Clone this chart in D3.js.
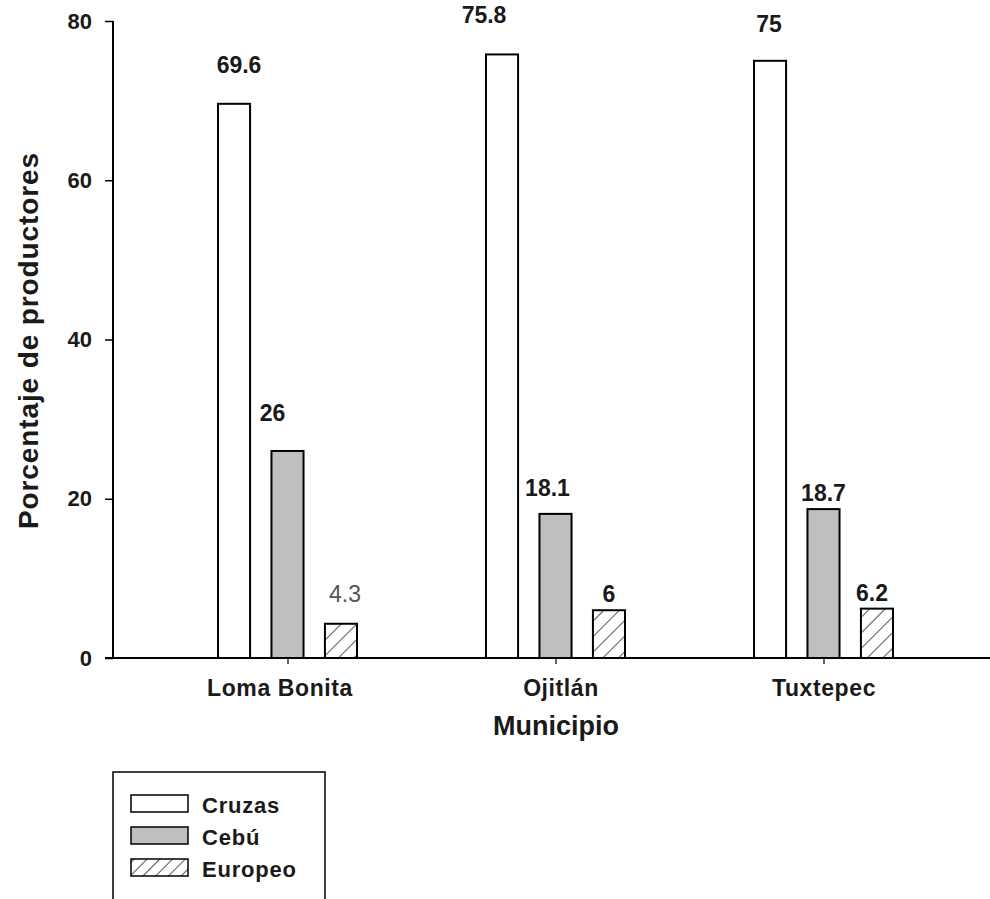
<!DOCTYPE html>
<html><head><meta charset="utf-8">
<script src="https://cdn.jsdelivr.net/npm/d3@7"></script>
<style>body{margin:0;background:#fff}svg{display:block}text{font-family:"Liberation Sans",Arial,sans-serif}</style>
</head><body>
<svg id="c" width="990" height="899"></svg>
<script>
const categories = ["Loma Bonita", "Ojitlán", "Tuxtepec"];
const seriesNames = ["Cruzas", "Cebú", "Europeo"];
const cruzas = [69.6, 75.8, 75];
const cebu = [26, 18.1, 18.7];
const europeo = [4.3, 6, 6.2];
const yTicks = [0, 20, 40, 60, 80];

// label placement (style, not data): baseline distance above bar top, horizontal shift
const labelDy = [[31, 31, 29], [30, 18, 8], [22, 8, 8]];
const labelDx = [[5, -18, -1], [-15, -8, 0], [4, 0, -5]];

const svg = d3.select("#c");
const defs = svg.append("defs");
function hatch(id, size) {
  const p = defs.append("pattern").attr("id", id).attr("patternUnits","userSpaceOnUse")
    .attr("width", size).attr("height", size).attr("patternTransform","rotate(45)");
  p.append("rect").attr("width", size).attr("height", size).attr("fill","#fff");
  p.append("line").attr("x1",0).attr("y1",0).attr("x2",0).attr("y2",size).attr("stroke","#222").attr("stroke-width",1.5);
}
hatch("hatch", 11);
hatch("hatchL", 9);

const fills = ["#ffffff", "#bfbfbf", "url(#hatch)"];
const legendFills = ["#ffffff", "#bfbfbf", "url(#hatchL)"];
const series = [cruzas, cebu, europeo];

const y = d3.scaleLinear().domain([0, 80]).range([658, 21]);
const x0 = d3.scaleBand().domain(categories).range([154, 958]);
const x1 = d3.scaleBand().domain(seriesNames).range([-70, 69]).paddingInner(0.4);

// y axis
const yAxis = d3.axisLeft(y).tickValues(yTicks).tickSize(8).tickPadding(13);
const gy = svg.append("g").attr("transform","translate(113,0)").call(yAxis);
gy.select(".domain").attr("stroke","#000").attr("stroke-width",2).attr("d","M0,658V21");
gy.selectAll(".tick line").attr("stroke","#000").attr("stroke-width",1.5);
gy.selectAll(".tick text").attr("font-size",22).attr("font-weight","bold").attr("fill","#1a1a1a");

// x axis
const xAxis = d3.axisBottom(x0).tickSize(6).tickPadding(16);
const gx = svg.append("g").attr("transform","translate(0,658)").call(xAxis);
gx.select(".domain").attr("stroke","#000").attr("stroke-width",2).attr("d","M105,0H990");
gx.selectAll(".tick line").attr("stroke","#000").attr("stroke-width",1.2);
gx.selectAll(".tick text").attr("font-size",23).attr("font-weight","bold").attr("fill","#1a1a1a")
  .attr("letter-spacing", 0.6).attr("dx", (d,i) => [-8, 5, 0][i]);

// bars
seriesNames.forEach((s, si) => {
  const g = svg.append("g");
  g.selectAll("rect").data(series[si]).join("rect")
    .attr("x", (d,i) => x0(categories[i]) + x0.bandwidth()/2 + x1(s))
    .attr("y", d => y(d))
    .attr("width", x1.bandwidth())
    .attr("height", d => y(0) - y(d))
    .attr("fill", fills[si]).attr("stroke","#000").attr("stroke-width",2);
  g.selectAll("text").data(series[si]).join("text")
    .attr("x", (d,i) => x0(categories[i]) + x0.bandwidth()/2 + x1(s) + x1.bandwidth()/2 + labelDx[si][i])
    .attr("y", (d,i) => y(d) - labelDy[si][i])
    .attr("text-anchor","middle")
    .attr("font-size",23)
    .attr("font-weight", (d,i) => (si === 2 && i === 0) ? "normal" : "bold")
    .attr("fill", (d,i) => (si === 2 && i === 0) ? "#555" : "#1a1a1a")
    .text(d => d);
});

// axis titles
svg.append("text").attr("transform","translate(38,341) rotate(-90)").attr("text-anchor","middle")
  .attr("font-size",28).attr("font-weight","bold").attr("fill","#1a1a1a")
  .attr("textLength",376).attr("lengthAdjust","spacing").text("Porcentaje de productores");
svg.append("text").attr("x",556).attr("y",735).attr("text-anchor","middle")
  .attr("font-size",27).attr("font-weight","bold").attr("fill","#1a1a1a").text("Municipio");

// legend
const lg = svg.append("g");
lg.append("rect").attr("x",113).attr("y",772).attr("width",212).attr("height",140)
  .attr("fill","#fff").attr("stroke","#000").attr("stroke-width",1.5);
seriesNames.forEach((s, i) => {
  const yy = 795 + i*32;
  lg.append("rect").attr("x",131).attr("y",yy).attr("width",57).attr("height",17)
    .attr("fill",legendFills[i]).attr("stroke","#000").attr("stroke-width",1.5);
  lg.append("text").attr("x",202).attr("y",yy+18).attr("font-size",22).attr("font-weight","bold")
    .attr("letter-spacing",0.8).attr("fill","#1a1a1a").text(s);
});
</script>
</body></html>
